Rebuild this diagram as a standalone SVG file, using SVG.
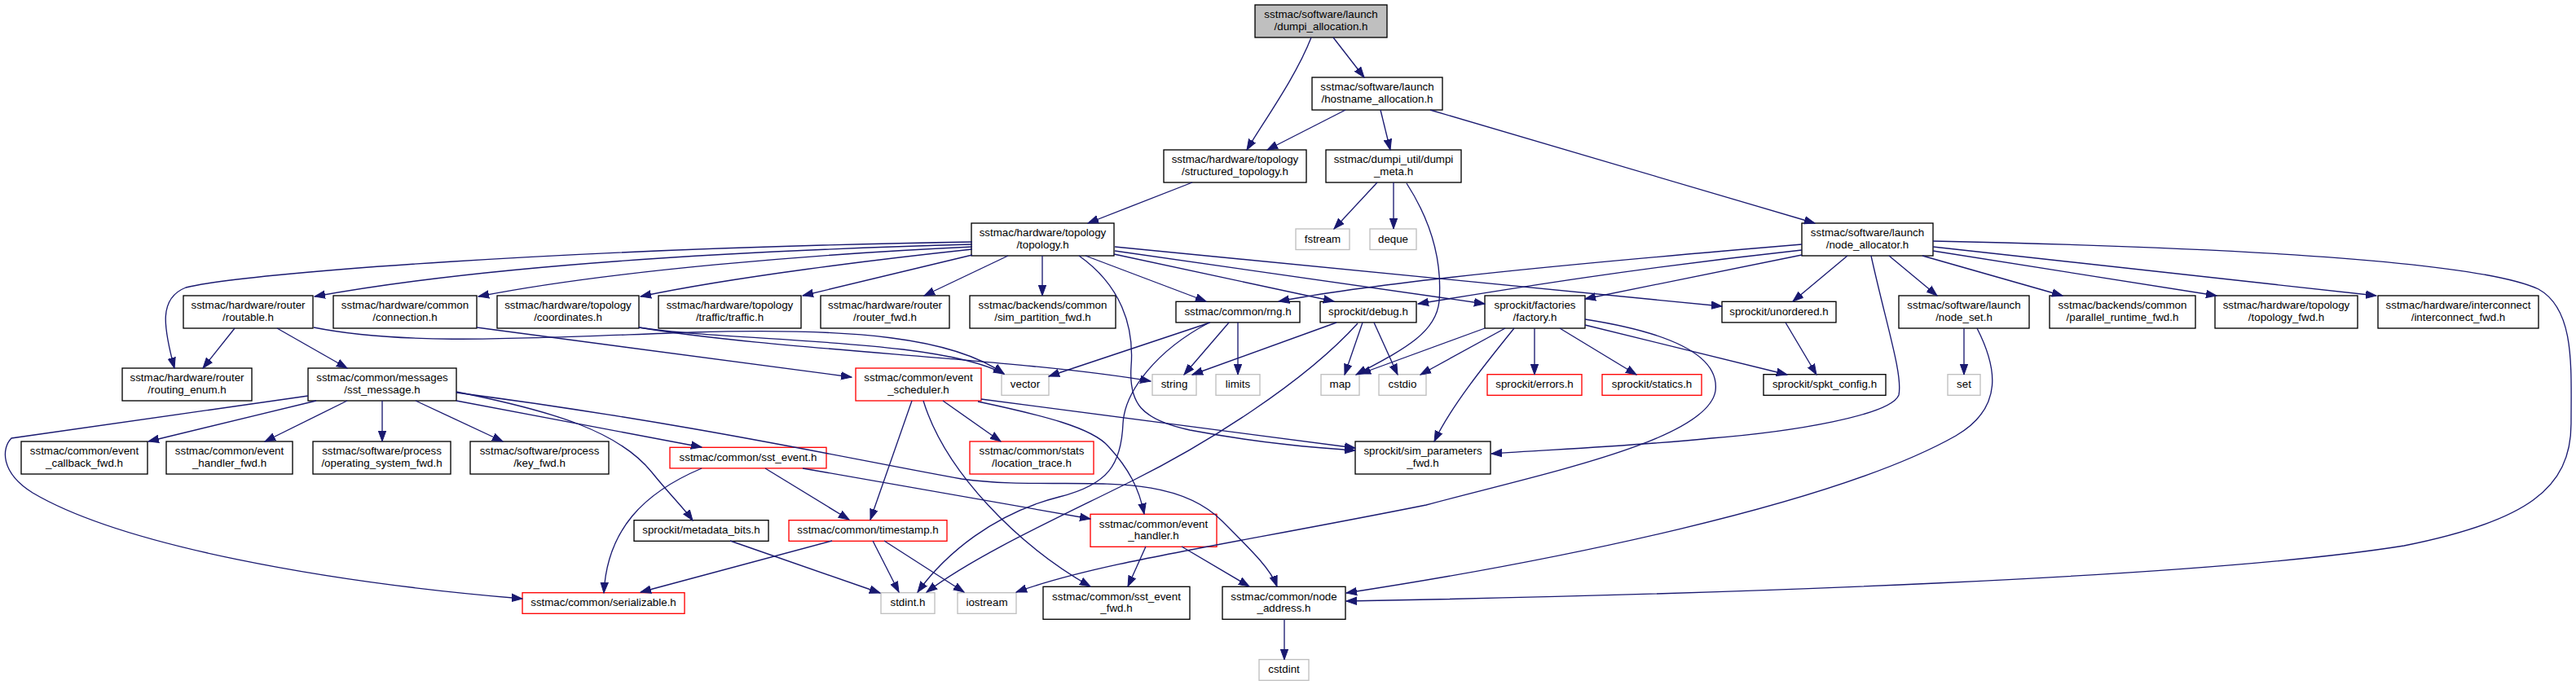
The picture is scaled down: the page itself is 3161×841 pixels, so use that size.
<svg xmlns="http://www.w3.org/2000/svg" width="3161" height="841" viewBox="0 0 3161 841">
<style>
rect{fill:#fff;stroke:#000;stroke-width:1.33}
rect.r{stroke:#ff0000}
rect.g{stroke:#bfbfbf}
rect.root{fill:#bfbfbf}
text{font-family:"Liberation Sans",Arial,Helvetica,sans-serif;font-size:13.33px;text-anchor:middle;fill:#000}
.e{fill:none;stroke:#191970;stroke-width:1.33;marker-end:url(#ah)}
</style>
<defs>
<marker id="ah" markerUnits="userSpaceOnUse" markerWidth="14" markerHeight="11" refX="13" refY="5.5" orient="auto"><path d="M0,0.8 L13,5.5 L0,10.2 Z" fill="#191970" stroke="#191970" stroke-width="1"/></marker>
</defs>
<rect x="0" y="0" width="3161" height="841" style="fill:#fff;stroke:none"/>
<g id="nodes">
<g id="n_dumpi_allocation"><rect class="root" x="1540" y="6" width="162" height="40"/><text x="1621" y="22.3">sstmac/software/launch</text><text x="1621" y="36.8">/dumpi_allocation.h</text></g>
<g id="n_hostname_allocation"><rect x="1610" y="95" width="160" height="40"/><text x="1690" y="111.3">sstmac/software/launch</text><text x="1690" y="125.8">/hostname_allocation.h</text></g>
<g id="n_structured_topology"><rect x="1428" y="184" width="175" height="40"/><text x="1515.5" y="200.3">sstmac/hardware/topology</text><text x="1515.5" y="214.8">/structured_topology.h</text></g>
<g id="n_dumpi_meta"><rect x="1627" y="184" width="166" height="40"/><text x="1710" y="200.3">sstmac/dumpi_util/dumpi</text><text x="1710" y="214.8">_meta.h</text></g>
<g id="n_topology"><rect x="1192" y="274" width="175" height="40"/><text x="1279.5" y="290.3">sstmac/hardware/topology</text><text x="1279.5" y="304.8">/topology.h</text></g>
<g id="n_fstream"><rect class="g" x="1590" y="281" width="66" height="25.5"/><text x="1623" y="297.5">fstream</text></g>
<g id="n_deque"><rect class="g" x="1681" y="281" width="57" height="25.5"/><text x="1709.5" y="297.5">deque</text></g>
<g id="n_node_allocator"><rect x="2211" y="274" width="161" height="40"/><text x="2291.5" y="290.3">sstmac/software/launch</text><text x="2291.5" y="304.8">/node_allocator.h</text></g>
<g id="n_routable"><rect x="225" y="363" width="159" height="40"/><text x="304.5" y="379.3">sstmac/hardware/router</text><text x="304.5" y="393.8">/routable.h</text></g>
<g id="n_connection"><rect x="409" y="363" width="176" height="40"/><text x="497" y="379.3">sstmac/hardware/common</text><text x="497" y="393.8">/connection.h</text></g>
<g id="n_coordinates"><rect x="610" y="363" width="174" height="40"/><text x="697" y="379.3">sstmac/hardware/topology</text><text x="697" y="393.8">/coordinates.h</text></g>
<g id="n_traffic"><rect x="808" y="363" width="175" height="40"/><text x="895.5" y="379.3">sstmac/hardware/topology</text><text x="895.5" y="393.8">/traffic/traffic.h</text></g>
<g id="n_router_fwd"><rect x="1007" y="363" width="158" height="40"/><text x="1086" y="379.3">sstmac/hardware/router</text><text x="1086" y="393.8">/router_fwd.h</text></g>
<g id="n_sim_partition_fwd"><rect x="1190" y="363" width="179" height="40"/><text x="1279.5" y="379.3">sstmac/backends/common</text><text x="1279.5" y="393.8">/sim_partition_fwd.h</text></g>
<g id="n_rng"><rect x="1443" y="370.3" width="152" height="25.6"/><text x="1519" y="386.8">sstmac/common/rng.h</text></g>
<g id="n_debug"><rect x="1620" y="370.3" width="118" height="25.6"/><text x="1679" y="386.8">sprockit/debug.h</text></g>
<g id="n_factory"><rect x="1822" y="363" width="123" height="40"/><text x="1883.5" y="379.3">sprockit/factories</text><text x="1883.5" y="393.8">/factory.h</text></g>
<g id="n_unordered"><rect x="2113" y="370.3" width="140" height="25.6"/><text x="2183" y="386.8">sprockit/unordered.h</text></g>
<g id="n_node_set"><rect x="2330" y="363" width="160" height="40"/><text x="2410" y="379.3">sstmac/software/launch</text><text x="2410" y="393.8">/node_set.h</text></g>
<g id="n_parallel_runtime_fwd"><rect x="2515" y="363" width="179" height="40"/><text x="2604.5" y="379.3">sstmac/backends/common</text><text x="2604.5" y="393.8">/parallel_runtime_fwd.h</text></g>
<g id="n_topology_fwd"><rect x="2718" y="363" width="175" height="40"/><text x="2805.5" y="379.3">sstmac/hardware/topology</text><text x="2805.5" y="393.8">/topology_fwd.h</text></g>
<g id="n_interconnect_fwd"><rect x="2918" y="363" width="197" height="40"/><text x="3016.5" y="379.3">sstmac/hardware/interconnect</text><text x="3016.5" y="393.8">/interconnect_fwd.h</text></g>
<g id="n_routing_enum"><rect x="150" y="452" width="159" height="40"/><text x="229.5" y="468.3">sstmac/hardware/router</text><text x="229.5" y="482.8">/routing_enum.h</text></g>
<g id="n_sst_message"><rect x="378" y="452" width="182" height="40"/><text x="469" y="468.3">sstmac/common/messages</text><text x="469" y="482.8">/sst_message.h</text></g>
<g id="n_event_scheduler"><rect class="r" x="1050" y="452" width="154" height="40"/><text x="1127" y="468.3">sstmac/common/event</text><text x="1127" y="482.8">_scheduler.h</text></g>
<g id="n_vector"><rect class="g" x="1229" y="459.7" width="58" height="25.6"/><text x="1258" y="476.2">vector</text></g>
<g id="n_string"><rect class="g" x="1414" y="459.7" width="54" height="25.6"/><text x="1441" y="476.2">string</text></g>
<g id="n_limits"><rect class="g" x="1492" y="459.7" width="54" height="25.6"/><text x="1519" y="476.2">limits</text></g>
<g id="n_map"><rect class="g" x="1621" y="459.7" width="47" height="25.6"/><text x="1644.5" y="476.2">map</text></g>
<g id="n_cstdio"><rect class="g" x="1692" y="459.7" width="58" height="25.6"/><text x="1721" y="476.2">cstdio</text></g>
<g id="n_errors"><rect class="r" x="1825" y="459.7" width="116" height="25.6"/><text x="1883" y="476.2">sprockit/errors.h</text></g>
<g id="n_statics"><rect class="r" x="1966" y="459.7" width="122" height="25.6"/><text x="2027" y="476.2">sprockit/statics.h</text></g>
<g id="n_spkt_config"><rect x="2164" y="459.7" width="150" height="25.6"/><text x="2239" y="476.2">sprockit/spkt_config.h</text></g>
<g id="n_set"><rect class="g" x="2390" y="459.7" width="40" height="25.6"/><text x="2410" y="476.2">set</text></g>
<g id="n_event_callback_fwd"><rect x="26" y="542" width="155" height="40"/><text x="103.5" y="558.3">sstmac/common/event</text><text x="103.5" y="572.8">_callback_fwd.h</text></g>
<g id="n_event_handler_fwd"><rect x="204" y="542" width="155" height="40"/><text x="281.5" y="558.3">sstmac/common/event</text><text x="281.5" y="572.8">_handler_fwd.h</text></g>
<g id="n_operating_system_fwd"><rect x="384" y="542" width="169" height="40"/><text x="468.5" y="558.3">sstmac/software/process</text><text x="468.5" y="572.8">/operating_system_fwd.h</text></g>
<g id="n_key_fwd"><rect x="577" y="542" width="170" height="40"/><text x="662" y="558.3">sstmac/software/process</text><text x="662" y="572.8">/key_fwd.h</text></g>
<g id="n_sst_event"><rect class="r" x="822" y="549.3" width="192" height="25.6"/><text x="918" y="565.8">sstmac/common/sst_event.h</text></g>
<g id="n_location_trace"><rect class="r" x="1190" y="542" width="152" height="40"/><text x="1266" y="558.3">sstmac/common/stats</text><text x="1266" y="572.8">/location_trace.h</text></g>
<g id="n_sim_parameters_fwd"><rect x="1663" y="542" width="166" height="40"/><text x="1746" y="558.3">sprockit/sim_parameters</text><text x="1746" y="572.8">_fwd.h</text></g>
<g id="n_metadata_bits"><rect x="778" y="638.7" width="165" height="25.6"/><text x="860.5" y="655.2">sprockit/metadata_bits.h</text></g>
<g id="n_timestamp"><rect class="r" x="968" y="638.7" width="194" height="25.6"/><text x="1065" y="655.2">sstmac/common/timestamp.h</text></g>
<g id="n_event_handler"><rect class="r" x="1338" y="631.3" width="155" height="40"/><text x="1415.5" y="647.6">sstmac/common/event</text><text x="1415.5" y="662.1">_handler.h</text></g>
<g id="n_serializable"><rect class="r" x="641" y="727.7" width="199" height="25.6"/><text x="740.5" y="744.2">sstmac/common/serializable.h</text></g>
<g id="n_stdint"><rect class="g" x="1081" y="727.7" width="66" height="25.6"/><text x="1114" y="744.2">stdint.h</text></g>
<g id="n_iostream"><rect class="g" x="1175" y="727.7" width="72" height="25.6"/><text x="1211" y="744.2">iostream</text></g>
<g id="n_sst_event_fwd"><rect x="1280" y="720.3" width="180" height="40"/><text x="1370" y="736.6">sstmac/common/sst_event</text><text x="1370" y="751.1">_fwd.h</text></g>
<g id="n_node_address"><rect x="1500" y="720.3" width="151" height="40"/><text x="1575.5" y="736.6">sstmac/common/node</text><text x="1575.5" y="751.1">_address.h</text></g>
<g id="n_cstdint"><rect class="g" x="1545" y="809.7" width="61" height="25.6"/><text x="1575.5" y="826.2">cstdint</text></g>
</g>
<g id="edges">
<path class="e" d="M1609,46 C1590,95 1550,150 1530,184"/>
<path class="e" d="M1636,46 L1674,95"/>
<path class="e" d="M1651,135 L1555,184"/>
<path class="e" d="M1694,135 L1706,184"/>
<path class="e" d="M1755,135 L2227,274"/>
<path class="e" d="M1463,224 L1335,274"/>
<path class="e" d="M1690,224 L1637,281"/>
<path class="e" d="M1710,224 L1710,281"/>
<path class="e" d="M1726,225 C1755,270 1770,320 1766,370 C1762,410 1720,430 1664,460"/>
<path class="e" d="M1193,297 C700,305 300,335 228,353 C195,366 200,400 214,452"/>
<path class="e" d="M1193,300 C900,308 600,325 386,364"/>
<path class="e" d="M1193,303 C1000,312 750,332 587,364"/>
<path class="e" d="M1193,306 C1080,318 900,340 786,364"/>
<path class="e" d="M1193,313 L985,363"/>
<path class="e" d="M1237,314 L1134,363"/>
<path class="e" d="M1279,314 L1279,363"/>
<path class="e" d="M1332,314 L1480,370"/>
<path class="e" d="M1367,312 L1637,370"/>
<path class="e" d="M1368,308 L1822,373"/>
<path class="e" d="M1368,303 L2113,376"/>
<path class="e" d="M1324,314 C1375,350 1392,400 1388,450 C1385,495 1400,515 1460,528 C1550,545 1620,550 1663,553"/>
<path class="e" d="M288,403 L249,452"/>
<path class="e" d="M340,403 L426,452"/>
<path class="e" d="M385,402 C500,425 650,415 850,408 C1050,402 1170,415 1232,459"/>
<path class="e" d="M784,402 C900,420 1150,415 1232,459"/>
<path class="e" d="M784,402 C950,430 1250,440 1412,468"/>
<path class="e" d="M585,402 L1045,463"/>
<path class="e" d="M388,492 L182,542"/>
<path class="e" d="M426,492 L325,542"/>
<path class="e" d="M469,492 L469,542"/>
<path class="e" d="M510,492 L617,542"/>
<path class="e" d="M560,492 L861,549"/>
<path class="e" d="M560,481 C680,505 760,530 800,580 C820,605 840,625 850,639"/>
<path class="e" d="M560,482 C850,520 1050,565 1180,588 C1300,605 1430,570 1500,640 C1540,680 1560,700 1567,720"/>
<path class="e" d="M378,486 L14,538 C2,550 0,580 40,605 C150,670 400,715 641,735"/>
<path class="e" d="M939,575 L1042,638"/>
<path class="e" d="M985,575 L1338,637"/>
<path class="e" d="M861,575 C790,605 745,650 741,728"/>
<path class="e" d="M896,664 L1080,728"/>
<path class="e" d="M1021,664 L786,727"/>
<path class="e" d="M1071,664 L1103,727"/>
<path class="e" d="M1085,664 L1183,727"/>
<path class="e" d="M1157,492 L1228,542"/>
<path class="e" d="M1119,492 L1068,638"/>
<path class="e" d="M1133,492 C1160,580 1250,670 1338,720"/>
<path class="e" d="M1200,493 C1280,510 1340,525 1360,548 C1385,575 1398,600 1404,631"/>
<path class="e" d="M1204,490 L1663,550"/>
<path class="e" d="M1485,396 L1287,462"/>
<path class="e" d="M1508,396 L1453,460"/>
<path class="e" d="M1519,396 L1519,460"/>
<path class="e" d="M1482,397 C1420,430 1380,480 1378,520 C1376,570 1360,595 1300,610 C1220,630 1160,680 1126,727"/>
<path class="e" d="M1640,396 L1463,460"/>
<path class="e" d="M1672,396 L1650,460"/>
<path class="e" d="M1686,396 L1715,460"/>
<path class="e" d="M1666,397 C1600,470 1480,545 1390,590 C1300,635 1200,680 1137,727"/>
<path class="e" d="M1822,403 L1669,459"/>
<path class="e" d="M1847,403 L1743,460"/>
<path class="e" d="M1858,403 C1820,450 1780,500 1760,542"/>
<path class="e" d="M1883,403 L1883,460"/>
<path class="e" d="M1914,403 L2008,460"/>
<path class="e" d="M1945,399 L2193,460"/>
<path class="e" d="M1945,392 C2060,410 2110,440 2105,480 C2095,540 1900,580 1750,620 C1500,670 1350,690 1247,727"/>
<path class="e" d="M2191,396 L2229,460"/>
<path class="e" d="M2211,300 C1950,322 1700,345 1569,370"/>
<path class="e" d="M2211,307 C2000,330 1850,355 1740,373"/>
<path class="e" d="M2211,313 L1945,367"/>
<path class="e" d="M2267,314 L2200,370"/>
<path class="e" d="M2318,314 L2377,363"/>
<path class="e" d="M2359,314 L2531,363"/>
<path class="e" d="M2372,308 L2720,363"/>
<path class="e" d="M2372,303 L2916,363"/>
<path class="e" d="M2372,296 C2800,305 3050,325 3115,355 C3160,380 3155,450 3155,520 C3155,600 3100,640 2950,670 C2700,710 2100,730 1652,738"/>
<path class="e" d="M2296,314 C2315,400 2335,460 2330,485 C2320,510 2200,530 2100,538 C2000,548 1900,552 1830,557"/>
<path class="e" d="M2410,403 L2410,460"/>
<path class="e" d="M2426,403 C2450,450 2460,500 2400,535 C2250,620 1900,690 1652,728"/>
<path class="e" d="M1406,671 L1384,720"/>
<path class="e" d="M1450,671 L1533,720"/>
<path class="e" d="M1576,760 L1576,810"/>
</g>
</svg>
